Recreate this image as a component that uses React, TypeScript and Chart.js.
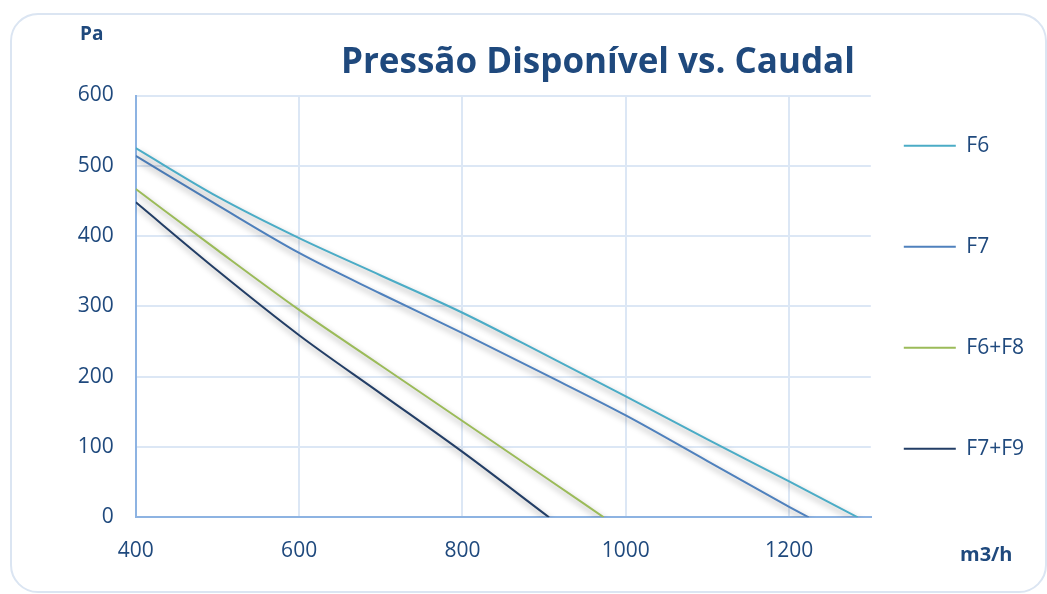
import React, { useEffect, useRef } from 'react';
import { Chart, registerables } from 'chart.js';

Chart.register(...registerables);

const titleText = 'Pressão Disponível vs. Caudal';
const yUnit = 'Pa';
const xUnit = 'm3/h';

const seriesNames = ['F6', 'F7', 'F6+F8', 'F7+F9'];
const seriesColors = ['#4bacc6', '#4f81bd', '#9bbb59', '#233e66'];

const f6Flow = [400, 500, 600, 700, 800, 900, 1000, 1100, 1200, 1284];
const f6Pressure = [525, 456, 397, 344, 291, 232, 172, 111, 51, 0];

const f7Flow = [400, 500, 600, 700, 800, 900, 1000, 1100, 1200, 1224];
const f7Pressure = [514, 444, 376, 318, 262, 204, 145, 80, 15, 0];

const f6f8Flow = [400, 500, 600, 700, 800, 900, 973];
const f6f8Pressure = [467, 380, 295, 216, 137, 58, 0];

const f7f9Flow = [400, 500, 600, 700, 800, 906];
const f7f9Pressure = [448, 351, 259, 176, 93, 0];

const xTickValues = [400, 600, 800, 1000, 1200];
const yTickValues = [0, 100, 200, 300, 400, 500, 600];

const flows = [f6Flow, f7Flow, f6f8Flow, f7f9Flow];
const pressures = [f6Pressure, f7Pressure, f6f8Pressure, f7f9Pressure];

const TEXT_COLOR = '#1f497d';
const FONT = "'Open Sans', 'Noto Sans', sans-serif";

const shadowPlugin = {
  id: 'lineShadow',
  beforeDatasetsDraw(chart: any) {
    const ctx = chart.ctx;
    ctx.save();
    ctx.shadowColor = 'rgba(0,0,0,0.4)';
    ctx.shadowBlur = 6;
    ctx.shadowOffsetX = 2;
    ctx.shadowOffsetY = 4;
  },
  afterDatasetsDraw(chart: any) {
    chart.ctx.restore();
  },
};

export default function App() {
  const canvasRef = useRef<HTMLCanvasElement | null>(null);

  useEffect(() => {
    if (!canvasRef.current) return;
    const datasets = seriesNames.map((name, i) => ({
      label: name,
      data: flows[i].map((x, j) => ({ x, y: pressures[i][j] })),
      borderColor: seriesColors[i],
      backgroundColor: seriesColors[i],
      borderWidth: 2,
      pointRadius: 0,
      pointHoverRadius: 0,
      fill: false,
      cubicInterpolationMode: 'monotone' as const,
    }));

    const chart = new Chart(canvasRef.current, {
      type: 'line',
      data: { datasets },
      plugins: [shadowPlugin],
      options: {
        responsive: false,
        animation: false,
        layout: { padding: { left: 0, top: 95.5, right: 13, bottom: 16.7 } },
        plugins: {
          title: { display: false },
          tooltip: { enabled: false },
          legend: {
            display: true,
            position: 'right',
            align: 'start',
            title: { display: true, text: '', padding: 0, font: { size: 6, lineHeight: '6.7px' } },
            labels: {
              boxWidth: 52,
              boxHeight: 2,
              padding: 33,
              color: TEXT_COLOR,
              font: { family: FONT, size: 21, lineHeight: '68px' },
              generateLabels: (c: any) =>
                c.data.datasets.map((ds: any, i: number) => ({
                  text: [ds.label],
                  fillStyle: ds.borderColor,
                  strokeStyle: ds.borderColor,
                  lineWidth: 0,
                  hidden: false,
                  datasetIndex: i,
                  fontColor: TEXT_COLOR,
                })),
            },
          },
        },
        scales: {
          x: {
            type: 'linear',
            min: 400,
            max: 1300,
            afterBuildTicks: (s: any) => {
              s.ticks = xTickValues.map((v) => ({ value: v }));
            },
            afterFit: (s: any) => {
              s.height = 60;
            },
            ticks: {
              color: TEXT_COLOR,
              font: { family: FONT, size: 21 },
              padding: 21,
              maxRotation: 0,
              callback: (v: any) => String(v),
            },
            grid: { color: '#dce7f5', lineWidth: 2, drawTicks: false },
            border: { color: '#8db3e2', width: 2 },
          },
          y: {
            type: 'linear',
            min: 0,
            max: 600,
            afterBuildTicks: (s: any) => {
              s.ticks = yTickValues.map((v) => ({ value: v }));
            },
            afterFit: (s: any) => {
              s.width = 135.8;
            },
            ticks: {
              color: TEXT_COLOR,
              font: { family: FONT, size: 21 },
              padding: 22,
              callback: (v: any) => String(v),
            },
            grid: { color: '#dce7f5', lineWidth: 2, drawTicks: false },
            border: { color: '#8db3e2', width: 2 },
          },
        },
      },
    });
    return () => chart.destroy();
  }, []);

  return (
    <div
      style={{
        position: 'absolute',
        left: 0,
        top: 0,
        width: 1047,
        height: 594,
        background: '#ffffff',
        overflow: 'hidden',
        fontFamily: FONT,
      }}
    >
      <div
        style={{
          position: 'absolute',
          left: 10,
          top: 13,
          width: 1037,
          height: 580,
          boxSizing: 'border-box',
          border: '2px solid #dbe5f2',
          borderRadius: 28,
        }}
      />
      <canvas
        ref={canvasRef}
        width={1047}
        height={594}
        style={{ position: 'absolute', left: 0, top: 0, display: 'block' }}
      />
      <div
        style={{
          position: 'absolute',
          left: 341,
          top: 42.2,
          fontSize: 35,
          lineHeight: '35px',
          fontWeight: 700,
          color: TEXT_COLOR,
          whiteSpace: 'nowrap',
        }}
      >
        {titleText}
      </div>
      <div
        style={{
          position: 'absolute',
          left: 80,
          top: 23.8,
          fontSize: 19,
          lineHeight: '19px',
          fontWeight: 700,
          color: TEXT_COLOR,
          whiteSpace: 'nowrap',
        }}
      >
        {yUnit}
      </div>
      <div
        style={{
          position: 'absolute',
          left: 960,
          top: 543.9,
          fontSize: 20,
          lineHeight: '20px',
          fontWeight: 700,
          color: TEXT_COLOR,
          whiteSpace: 'nowrap',
        }}
      >
        {xUnit}
      </div>
    </div>
  );
}
